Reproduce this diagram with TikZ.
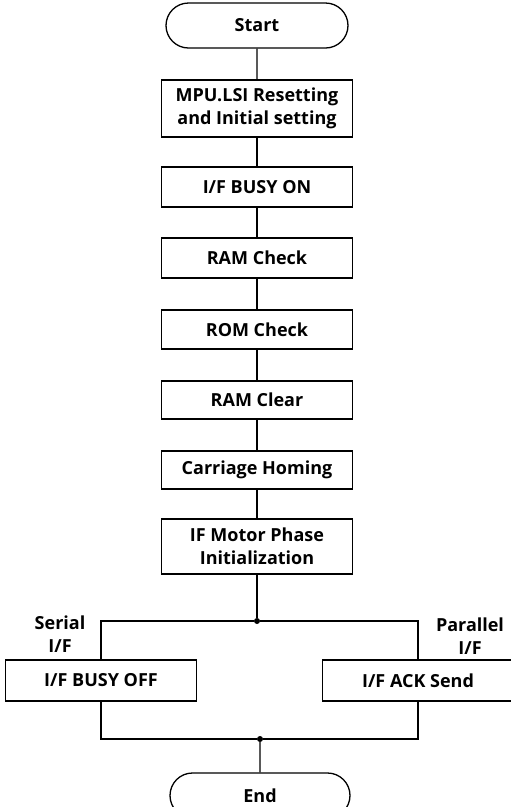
\documentclass[tikz,border=0pt]{standalone}
\usepackage{fontspec}
\setmainfont{Open Sans}
\usetikzlibrary{shapes.misc}

\begin{document}
\begin{tikzpicture}[x=1pt,y=-1pt,
                    font=\bfseries\fontsize{18}{23}\selectfont,
                    stepbox/.style={draw,line width=1.3pt,minimum width=191pt,inner sep=0pt,align=center},
                    term/.style={draw,rounded rectangle,line width=1.3pt,minimum width=182pt,minimum height=45pt,inner sep=0pt},
                    link/.style={line width=1.2pt},
                    dot/.style={circle,fill,inner sep=0pt,minimum size=6pt}]
    \useasboundingbox (0,0) rectangle (511,807);
    \node[term] (start) at (257,25.5) {Start};
    \node[stepbox,minimum height=57pt] (reset) at (257,108.5) {MPU.LSI Resetting\\and Initial setting};
    \node[stepbox,minimum height=40pt] (busyon) at (257,187) {I/F BUSY ON};
    \node[stepbox,minimum height=40pt] (ramchk) at (257,258) {RAM Check};
    \node[stepbox,minimum height=39pt] (romchk) at (257,329.5) {ROM Check};
    \node[stepbox,minimum height=38pt] (ramclr) at (257,400) {RAM Clear};
    \node[stepbox,minimum height=38pt] (homing) at (257,470) {Carriage Homing};
    \node[stepbox,minimum height=55pt] (motor) at (257,546.5) {IF Motor Phase\\Initialization};
    \node[dot] (split) at (257,621) {};
    \node[stepbox,minimum height=41pt] (busyoff) at (101,680.5) {I/F BUSY OFF};
    \node[stepbox,minimum height=41pt] (ack) at (418,680.5) {I/F ACK Send};
    \node[align=center] (serial) at (60,634) {Serial\\I/F};
    \node[align=center] (parallel) at (470,636) {Parallel\\I/F};
    \node[dot] (merge) at (260,739) {};
    \node[term,minimum width=180pt] (end) at (260,795.5) {End};
    % main line
    \draw[link] (start) -- (reset);
    \draw[link] (reset) -- (busyon);
    \draw[link] (busyon) -- (ramchk);
    \draw[link] (ramchk) -- (romchk);
    \draw[link] (romchk) -- (ramclr);
    \draw[link] (ramclr) -- (homing);
    \draw[link] (homing) -- (motor);
    \draw[link] (motor) -- (split);
    % branches
    \draw[link] (split) -| (busyoff);
    \draw[link] (split) -| (ack);
    \draw[link] (busyoff) |- (merge);
    \draw[link] (ack) |- (merge);
    \draw[link] (merge) -- (end);
\end{tikzpicture}
\end{document}
